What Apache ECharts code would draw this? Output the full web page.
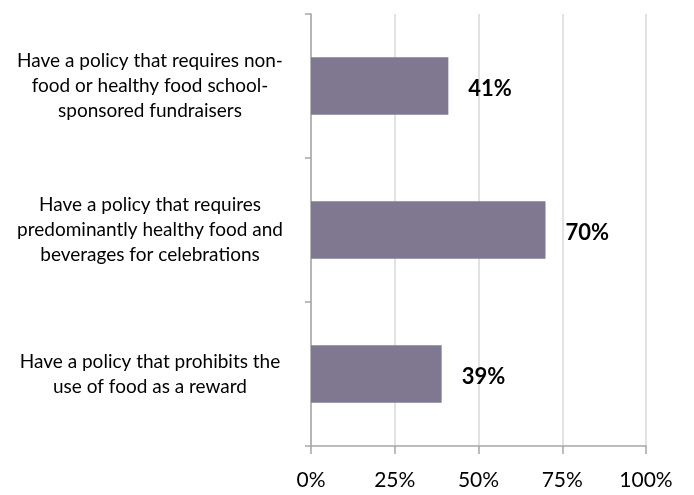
<!DOCTYPE html>
<html>
<head>
<meta charset="utf-8">
<script src="https://cdn.jsdelivr.net/npm/echarts@6/dist/echarts.min.js"></script>
<style>
html,body{margin:0;padding:0;background:#fff;}
#chart{width:694px;height:495px;}
</style>
</head>
<body>
<div id="chart"></div>
<script>
const categories = [
  "Have a policy that requires non-\nfood or healthy food school-\nsponsored fundraisers",
  "Have a policy that requires\npredominantly healthy food and\nbeverages for celebrations",
  "Have a policy that prohibits the\nuse of food as a reward"
];
const values = [41, 70, 39];
const axisMin = 0;
const axisMax = 100;
const axisStep = 25;

const chart = echarts.init(document.getElementById('chart'), null, {renderer: 'canvas'});
chart.setOption({
  animation: false,
  textStyle: {fontFamily: 'Lato'},
  grid: {left: 311, right: 48, top: 14, bottom: 49, containLabel: false},
  xAxis: {
    type: 'value',
    min: axisMin, max: axisMax, interval: axisStep,
    axisLine: {show: true, lineStyle: {color: '#a6a6a6', width: 1.5}},
    axisTick: {show: true, length: 8, lineStyle: {color: '#a6a6a6', width: 1.5}},
    splitLine: {show: true, lineStyle: {color: '#d9d9d9', width: 1.5}},
    axisLabel: {formatter: '{value}%', color: '#000', fontSize: 21, margin: 24, fontFamily: 'Lato'}
  },
  yAxis: {
    type: 'category',
    inverse: true,
    data: categories,
    axisLine: {show: true, lineStyle: {color: '#a6a6a6', width: 1.5}},
    axisTick: {show: true, length: 6, lineStyle: {color: '#a6a6a6', width: 1.5}},
    axisLabel: {align: 'center', margin: 161, fontSize: 19, lineHeight: 25, color: '#000', fontFamily: 'Lato'}
  },
  series: [{
    type: 'bar',
    data: values,
    barWidth: '40%',
    itemStyle: {color: '#7f7890'},
    label: {
      show: true, position: 'right', distance: 20,
      formatter: '{c}%', fontSize: 22, fontWeight: 'bold', color: '#000', fontFamily: 'Lato',
      offset: [0, 3]
    }
  }]
});
</script>
</body>
</html>
